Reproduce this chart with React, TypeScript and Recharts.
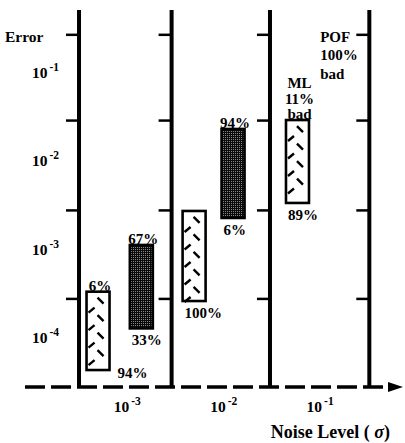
import React from 'react';
import {
  ComposedChart, Bar, XAxis, YAxis, ReferenceLine, ReferenceDot, Label,
} from 'recharts';

// box positions on the noise axis (log10 sigma), one per error range
const noiseExp = [-3.303, -2.854, -2.307, -1.903, -1.235];
const methods = ['ML', 'POF', 'ML', 'POF', 'ML'];
const errorHigh = [3.38e-4, 1.14e-3, 2.76e-3, 2.33e-2, 2.94e-2];
const errorLow = [4.4e-5, 1.3e-4, 2.65e-4, 2.3e-3, 3.4e-3];
const topNotes = [['6%'], ['67%'], [], ['94%'], ['ML', '11%', 'bad']];
const bottomNotes = ['94%', '33%', '100%', '6%', '89%'];

const panelEdges = [-3.5, -2.54, -1.52, -0.49];
const errorTicks = [1e-1, 1e-2, 1e-3, 1e-4];
const guideMarks = [0.27, 0.029, 0.0028, 0.00028];
const noiseTicks = [-3, -2, -1];
const pofNote = ['POF', '100%', 'bad'];
const pofAt = { x: -1, y: 0.224 };

const data = noiseExp.map((x, i) => ({
  x,
  range: [errorLow[i], errorHigh[i]],
  method: methods[i],
  top: topNotes[i],
  bottom: bottomNotes[i],
}));

const FONT = '"Liberation Serif", "Times New Roman", serif';
const PLOT_BOTTOM = 387;

function Pow10({ x, y, exp, anchor }: { x: number; y: number; exp: number; anchor: 'start' | 'middle' | 'end' }) {
  return (
    <text x={x} y={y} textAnchor={anchor} fontFamily={FONT} fontWeight="bold" fontSize={15.5} fill="#000">
      10
      <tspan dx={2} dy={-7} fontSize={11.5}>{exp}</tspan>
    </text>
  );
}

function BoxShape(props: any) {
  const { x, y, width, height, payload } = props;
  const marks: React.ReactNode[] = [];
  if (payload.method === 'ML') {
    for (let k = 0; 6 + k * 17.5 + 8 < height; k++) {
      const y0 = y + 6 + k * 17.5;
      marks.push(
        <line key={'c' + k} x1={x + 11} y1={y0} x2={x + 17} y2={y0 + 6} stroke="#000" strokeWidth={2.4} />,
        <line key={'l' + k} x1={x + 2} y1={y0 + 15} x2={x + 8} y2={y0 + 10} stroke="#000" strokeWidth={2.4} />,
      );
    }
  }
  const cx = x + width / 2 + 2;
  const lines: string[] = payload.top;
  const beside = y + height + 20 > PLOT_BOTTOM;
  const txt = { fontFamily: FONT, fontWeight: 'bold' as const, fontSize: 15, fill: '#000' };
  return (
    <g>
      <rect x={x} y={y} width={width} height={height}
        fill={payload.method === 'ML' ? '#fff' : 'url(#stipple)'} stroke="#000" strokeWidth={2.6} />
      {marks}
      {lines.map((s, i) => (
        <text key={s + i} x={cx} y={y - 1 - (lines.length - 1 - i) * 15.5} textAnchor="middle" {...txt}>{s}</text>
      ))}
      {beside ? (
        <text x={x + width + 8} y={y + height + 8} {...txt}>{payload.bottom}</text>
      ) : (
        <text x={x + 2} y={y + height + 17} {...txt}>{payload.bottom}</text>
      )}
    </g>
  );
}

export default function App() {
  return (
    <div style={{ position: 'absolute', left: 0, top: 0, background: '#fff' }}>
      <ComposedChart width={405} height={443} data={data} margin={{ top: 10, right: 16, bottom: 0, left: 0 }}>
        <defs>
          <pattern id="stipple" width="2" height="2" patternUnits="userSpaceOnUse">
            <rect width="2" height="2" fill="#0a0a0a" />
            <rect x="1" y="1" width="1" height="1" fill="#888" />
          </pattern>
          <marker id="arrowHead" markerWidth="15" markerHeight="12" refX="1" refY="6" orient="auto" markerUnits="userSpaceOnUse">
            <path d="M0,1 L15,6 L0,11 z" fill="#000" stroke="none" />
          </marker>
        </defs>
        <XAxis
          dataKey="x" type="number" domain={[-4.06, -0.286]} ticks={noiseTicks} height={56}
          tickLine={false} tickSize={0} tickMargin={0} allowDataOverflow
          axisLine={{ stroke: '#000', strokeWidth: 3.5, strokeDasharray: '20 6', markerEnd: 'url(#arrowHead)' }}
          tick={(p: any) => <Pow10 x={p.x} y={p.y + 25} exp={p.payload.value} anchor="middle" />}
        >
          <Label
            content={({ viewBox }: any) => (
              <text x={viewBox.x + viewBox.width + 1} y={viewBox.y + viewBox.height - 5}
                textAnchor="end" fontFamily={FONT} fontWeight="bold" fontSize={18} fill="#000">
                Noise Level ( <tspan fontStyle="italic">σ</tspan>)
              </text>
            )}
          />
        </XAxis>
        <YAxis
          type="number" scale="log" domain={[2.83e-5, 0.515]} ticks={errorTicks} width={25}
          axisLine={false} tickLine={false} tickSize={0} tickMargin={0} allowDataOverflow
          tick={(p: any) => <Pow10 x={p.x + 34} y={p.y + 5} exp={Math.round(Math.log10(p.payload.value))} anchor="end" />}
        >
          <Label
            content={({ viewBox }: any) => (
              <text x={viewBox.x + 5} y={viewBox.y + 32} fontFamily={FONT} fontWeight="bold" fontSize={15.5} fill="#000">
                Error
              </text>
            )}
          />
        </YAxis>
        {panelEdges.map((e) => (
          <ReferenceLine key={'v' + e} x={e} stroke="#000" strokeWidth={4} />
        ))}
        {panelEdges.flatMap((e) =>
          guideMarks.map((g) => (
            <ReferenceLine key={'t' + e + g} segment={[{ x: e - 0.135, y: g }, { x: e, y: g }]} stroke="#000" strokeWidth={2.5} />
          )),
        )}
        <Bar dataKey="range" barSize={23} shape={BoxShape} isAnimationActive={false} />
        <ReferenceDot
          x={pofAt.x} y={pofAt.y} r={0} fill="none" stroke="none"
          label={({ viewBox }: any) => (
            <g>
              {pofNote.map((s, i) => (
                <text key={s} x={viewBox.x} y={viewBox.y + i * 18.5} fontFamily={FONT} fontWeight="bold" fontSize={15} fill="#000">{s}</text>
              ))}
            </g>
          )}
        />
      </ComposedChart>
    </div>
  );
}
